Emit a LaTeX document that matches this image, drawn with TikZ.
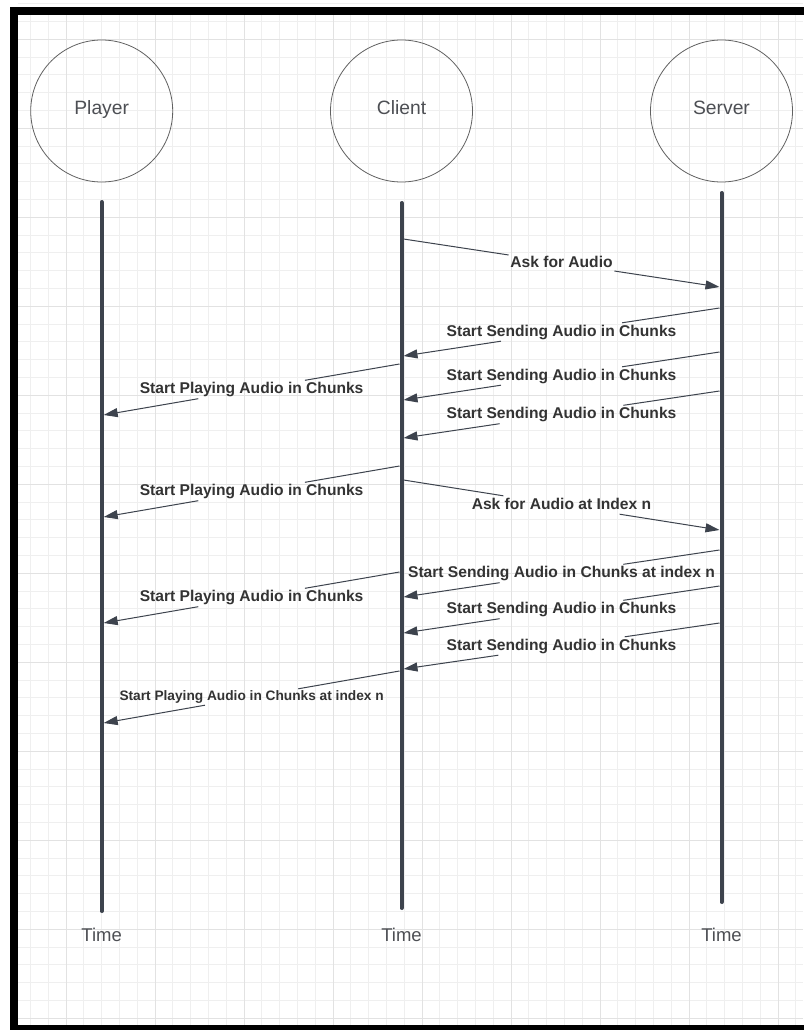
\documentclass[tikz,border=0pt]{standalone}
\usepackage{fontspec}
\setmainfont{Liberation Sans}
\usetikzlibrary{arrows.meta}
\definecolor{lane}{HTML}{3D434D}
\definecolor{ink}{HTML}{333333}
\definecolor{soft}{HTML}{4D4F54}
\definecolor{gridminor}{HTML}{EFEFEF}
\definecolor{gridmajor}{HTML}{E2E2E2}
\tikzset{
  actor/.style={circle,draw=black!62,line width=0.8pt,minimum size=142pt,inner sep=0pt,
    text=soft,font=\fontsize{19.3}{22}\selectfont,text height=14pt,text depth=6pt},
  lifeline/.style={lane,line width=4pt,line cap=round},
  msg/.style={lane,line width=1pt},
  msgarrow/.style={msg,-{Triangle[length=14pt,width=9pt]}},
  msglabel/.style={text=ink,font=\bfseries\fontsize{15.6}{18}\selectfont,
    text height=11.5pt,text depth=3.5pt,inner sep=1.5pt},
  smalllabel/.style={msglabel,font=\bfseries\fontsize{13.7}{16}\selectfont,
    text height=10pt,text depth=3pt},
  timelabel/.style={text=soft,font=\fontsize{18.5}{21}\selectfont}
}
\begin{document}
\begin{tikzpicture}[x=1pt,y=-1pt]
\useasboundingbox (0,0) rectangle (803,1030);
\fill[white] (0,0) rectangle (803,1030);
% grid paper
\foreach \i in {0,...,44}
  \draw[gridminor,line width=0.9pt] ({12.6+17.8*\i},15) -- ({12.6+17.8*\i},1025);
\foreach \j in {0,...,57}
  \draw[gridminor,line width=0.9pt] (18,{3.7+17.8*\j}) -- (803,{3.7+17.8*\j});
\foreach \i in {0,...,8}
  \draw[gridmajor,line width=0.9pt] ({66+89*\i},15) -- ({66+89*\i},1025);
\foreach \j in {0,...,11}
  \draw[gridmajor,line width=0.9pt] (18,{39.3+89*\j}) -- (803,{39.3+89*\j});
% frame
\draw[line width=8.4pt] (830,10.9) -- (14,10.9) -- (14,1029) -- (830,1029);

% actors
\node[actor] (player) at (101.7,111) {Player};
\node[actor] (client) at (401.5,111) {Client};
\node[actor] (server) at (721.5,111) {Server};

% lifelines
\coordinate (playerTop) at (101.7,202);
\coordinate (playerEnd) at (101.7,911);
\coordinate (clientTop) at (401.5,203);
\coordinate (clientEnd) at (401.5,908);
\coordinate (serverTop) at (721.5,193);
\coordinate (serverEnd) at (721.5,902);
\draw[lifeline] (playerTop) -- (playerEnd);
\draw[lifeline] (clientTop) -- (clientEnd);
\draw[lifeline] (serverTop) -- (serverEnd);
\node[timelabel] (playerTime) at (101.7,935) {Time};
\node[timelabel] (clientTime) at (401.5,935) {Time};
\node[timelabel] (serverTime) at (721.5,935) {Time};

% message ends
\coordinate (c1) at (403.5,239);  \coordinate (s1) at (719.5,287);
\coordinate (s2) at (719.5,308);  \coordinate (c2) at (403.5,356);
\coordinate (s3) at (719.5,352);  \coordinate (c3) at (403.5,400);
\coordinate (s4) at (719.5,391);  \coordinate (c4) at (403.5,438);
\coordinate (c5) at (399.5,364);  \coordinate (p5) at (103.7,415);
\coordinate (c6) at (399.5,466);  \coordinate (p6) at (103.7,517);
\coordinate (c7) at (403.5,480);  \coordinate (s7) at (719.5,530);
\coordinate (s8) at (719.5,550);  \coordinate (c8) at (403.5,597);
\coordinate (s9) at (719.5,586);  \coordinate (c9) at (403.5,633);
\coordinate (s10) at (719.5,623); \coordinate (c10) at (403.5,669);
\coordinate (c11) at (399.5,572); \coordinate (p11) at (103.7,623);
\coordinate (c12) at (399.5,671); \coordinate (p12) at (103.7,723);

% labels
\path (c1)--(s1) node[midway,msglabel] (m1) {Ask for Audio};
\path (s2)--(c2) node[midway,msglabel] (m2) {Start Sending Audio in Chunks};
\path (s3)--(c3) node[midway,msglabel] (m3) {Start Sending Audio in Chunks};
\path (s4)--(c4) node[midway,msglabel] (m4) {Start Sending Audio in Chunks};
\path (c5)--(p5) node[midway,msglabel] (m5) {Start Playing Audio in Chunks};
\path (c6)--(p6) node[midway,msglabel] (m6) {Start Playing Audio in Chunks};
\path (c7)--(s7) node[midway,msglabel] (m7) {Ask for Audio at Index n};
\path (s8)--(c8) node[midway,msglabel] (m8) {Start Sending Audio in Chunks at index n};
\path (s9)--(c9) node[midway,msglabel] (m9) {Start Sending Audio in Chunks};
\path (s10)--(c10) node[midway,msglabel] (m10) {Start Sending Audio in Chunks};
\path (c11)--(p11) node[midway,msglabel] (m11) {Start Playing Audio in Chunks};
\path (c12)--(p12) node[midway,smalllabel] (m12) {Start Playing Audio in Chunks at index n};

% arrows
\draw[msg] (c1)--(m1);   \draw[msgarrow] (m1)--(s1);
\draw[msg] (s2)--(m2);   \draw[msgarrow] (m2)--(c2);
\draw[msg] (s3)--(m3);   \draw[msgarrow] (m3)--(c3);
\draw[msg] (s4)--(m4);   \draw[msgarrow] (m4)--(c4);
\draw[msg] (c5)--(m5);   \draw[msgarrow] (m5)--(p5);
\draw[msg] (c6)--(m6);   \draw[msgarrow] (m6)--(p6);
\draw[msg] (c7)--(m7);   \draw[msgarrow] (m7)--(s7);
\draw[msg] (s8)--(m8);   \draw[msgarrow] (m8)--(c8);
\draw[msg] (s9)--(m9);   \draw[msgarrow] (m9)--(c9);
\draw[msg] (s10)--(m10); \draw[msgarrow] (m10)--(c10);
\draw[msg] (c11)--(m11); \draw[msgarrow] (m11)--(p11);
\draw[msg] (c12)--(m12); \draw[msgarrow] (m12)--(p12);
\end{tikzpicture}
\end{document}
